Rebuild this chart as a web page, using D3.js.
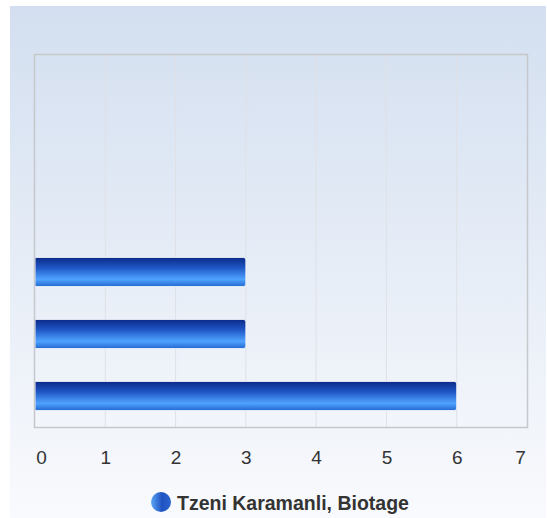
<!DOCTYPE html>
<html>
<head>
<meta charset="utf-8">
<script src="https://cdn.jsdelivr.net/npm/d3@7/dist/d3.min.js"></script>
<style>
html,body{margin:0;padding:0;background:#fff;}
svg{display:block;}
text{font-family:"Liberation Sans",Arial,sans-serif;}
</style>
</head>
<body>
<svg id="chart" width="547" height="518"></svg>
<script>
const categories = ["Cat 1", "Cat 2", "Cat 3", "Cat 4", "Cat 5", "Cat 6"];
const seriesName = "Tzeni Karamanli, Biotage";
const values = [null, null, null, 3, 3, 6];
const xTicks = [0, 1, 2, 3, 4, 5, 6, 7];

const W = 547, H = 518;
const plot = {left: 35, right: 527, top: 55, bottom: 427};
const svg = d3.select("#chart");
const defs = svg.append("defs");

const bg = defs.append("linearGradient").attr("id","bg").attr("x1",0).attr("y1",0).attr("x2",0).attr("y2",1);
bg.append("stop").attr("offset","0%").attr("stop-color","#d3dff0");
bg.append("stop").attr("offset","100%").attr("stop-color","#f9fafd");

const bar = defs.append("linearGradient").attr("id","bar").attr("x1",0).attr("y1",0).attr("x2",0).attr("y2",1);
[["0%","#0a2a88"],["35%","#1e55c4"],["75%","#4fa3ff"],["100%","#2468d2"]].forEach(s =>
  bar.append("stop").attr("offset",s[0]).attr("stop-color",s[1]));

const leg = defs.append("linearGradient").attr("id","leg").attr("x1",0).attr("y1",0).attr("x2",1).attr("y2",0);
[["0%","#5aa6f5"],["55%","#1f52c0"],["100%","#2a64d0"]].forEach(s =>
  leg.append("stop").attr("offset",s[0]).attr("stop-color",s[1]));

svg.append("rect").attr("x",10).attr("y",6).attr("width",W-11).attr("height",H-6).attr("fill","url(#bg)");

const x = d3.scaleLinear().domain([0, 7]).range([plot.left, plot.right]);
const y = d3.scaleBand().domain(categories).range([plot.top, plot.bottom]).paddingInner(0.53).paddingOuter(0.265);

// grid
svg.append("g").selectAll("line").data(xTicks.slice(1, -1)).join("line")
  .attr("x1", d => x(d)).attr("x2", d => x(d))
  .attr("y1", plot.top).attr("y2", plot.bottom)
  .attr("stroke", "#dfe1e5").attr("stroke-width", 1);

// bars
const data = categories.map((c, i) => ({c, v: values[i]})).filter(d => d.v != null);
svg.append("g").selectAll("path").data(data).join("path")
  .attr("d", d => {
    const x0 = x(0), x1 = x(d.v), y0 = y(d.c), h = y.bandwidth(), r = 2.5;
    return `M${x0},${y0}H${x1 - r}Q${x1},${y0} ${x1},${y0 + r}V${y0 + h - r}Q${x1},${y0 + h} ${x1 - r},${y0 + h}H${x0}Z`;
  })
  .attr("fill", "url(#bar)")
  .attr("stroke", "rgba(255,255,255,0.8)").attr("stroke-width", 1);

// plot border
svg.append("rect").attr("x", plot.left - 0.5).attr("y", plot.top - 0.5)
  .attr("width", plot.right - plot.left + 1).attr("height", plot.bottom - plot.top + 1)
  .attr("fill", "none").attr("stroke", "#c6c8cc").attr("stroke-width", 1.5);

// x axis labels
const axis = d3.axisBottom(x).tickValues(xTicks).tickFormat(d3.format("d")).tickSize(0).tickPadding(0);
const ag = svg.append("g").attr("transform", `translate(0,${plot.bottom})`).call(axis);
ag.select(".domain").remove();
ag.selectAll("text")
  .attr("y", 37).attr("dy", 0)
  .attr("fill", "#333").style("font-size", "19px")
  .attr("font-family", "Liberation Sans, Arial, sans-serif")
  .attr("dx", d => d === 0 ? 6 : (d === 7 ? -7 : 0));

// legend
const lg = svg.append("g");
lg.append("circle").attr("cx", 161).attr("cy", 502).attr("r", 10).attr("fill", "url(#leg)");
lg.append("text").attr("x", 177).attr("y", 509.5).text(seriesName)
  .attr("fill", "#333").style("font-size", "19.5px").style("font-weight", "bold");
</script>
</body>
</html>
